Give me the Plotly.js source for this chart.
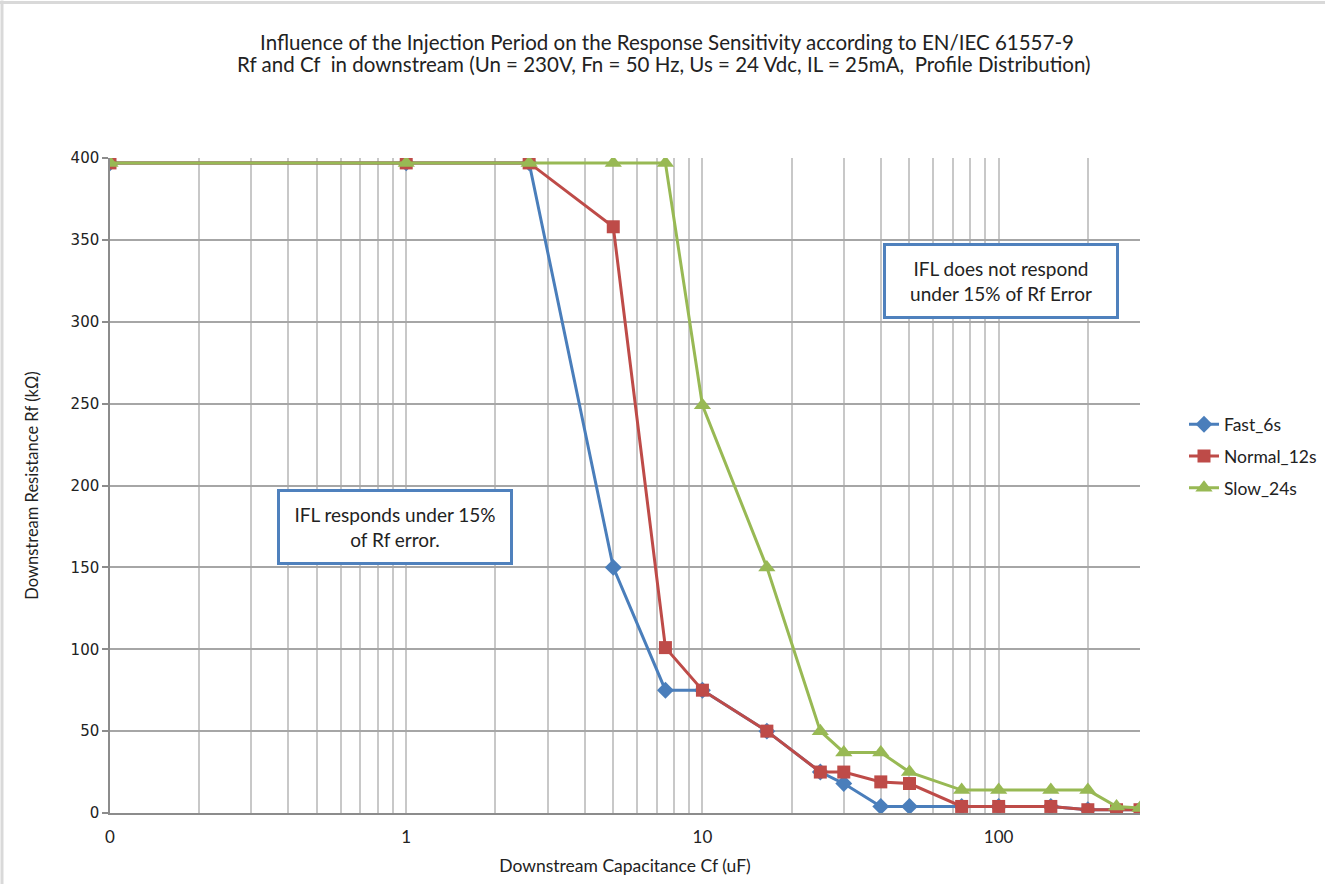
<!DOCTYPE html>
<html>
<head>
<meta charset="utf-8">
<script src="https://cdn.plot.ly/plotly-3.0.1.min.js"></script>
<style>body{margin:0;padding:0;background:#fff}#chart{width:1325px;height:884px}</style>
</head>
<body>
<div id="chart"></div>
<script>
// ---- data ----
var capacitance = [0.1, 1, 2.6, 5, 7.5, 10, 16.5, 25, 30, 40, 50, 75, 100, 150, 200, 250, 300];
var fast6s   = [397, 397, 397, 150, 75, 75, 50, 25, 18, 4, 4, 4, 4, 4, 2, 2, 2];
var normal12s= [397, 397, 397, 358, 101, 75, 50, 25, 25, 19, 18, 4, 4, 4, 2, 2, 2];
var slow24s  = [397, 397, 397, 397, 397, 249, 150, 50, 37, 37, 25, 14, 14, 14, 14, 4, 3];
var seriesNames = ["Fast_6s", "Normal_12s", "Slow_24s"];
var xTickVals = [0.1, 1, 10, 100];
var xTickText = ["0", "1", "10", "100"];
var yTickVals = [0, 50, 100, 150, 200, 250, 300, 350, 400];
var titleLine1 = "Influence of the Injection Period on the Response Sensitivity according to EN/IEC 61557-9";
var titleLine2 = "Rf and Cf  in downstream (Un = 230V, Fn = 50 Hz, Us = 24 Vdc, IL = 25mA,  Profile Distribution)";

var minorVals = [];
[0.1, 1, 10, 100].forEach(function (d) {
  for (var k = 2; k <= 9; k++) { if (d * k <= 300) minorVals.push(d * k); }
});

var W = 1325, H = 884, L = 110, R = 1140, T = 157.5, B = 812.7;
function px(p) { return (p - L) / (R - L); }
function py(p) { return (B - p) / (B - T); }

var FONT = "Lato, 'Open Sans', sans-serif";
var colors = ["#4A7EBB", "#BE4B48", "#98B954"];

var traces = [
  {x: capacitance, y: fast6s, name: seriesNames[0], legendgroup: "a", mode: "lines+markers",
   line: {color: colors[0], width: 3}, marker: {symbol: "diamond", size: 13, color: colors[0]}},
  {x: capacitance, y: normal12s, name: seriesNames[1], legendgroup: "b", mode: "lines+markers",
   line: {color: colors[1], width: 3}, marker: {symbol: "square", size: 13, color: colors[1]}},
  {x: capacitance, y: slow24s, name: seriesNames[2], legendgroup: "c", mode: "lines+markers",
   line: {color: colors[2], width: 3}, marker: {symbol: "triangle-up", size: 15, color: colors[2]}}
];

var layout = {
  width: W, height: H,
  margin: {l: L, r: W - R, t: T, b: H - B, pad: 0, autoexpand: false},
  paper_bgcolor: "#fff", plot_bgcolor: "#fff",
  showlegend: true,
  font: {family: FONT, color: "#222", size: 16},
  title: {
    text: titleLine1,
    font: {family: FONT, size: 20.5, color: "#222"},
    xref: "container", x: 667 / W, xanchor: "center", y: 1 - 43 / H, yanchor: "middle"
  },
  xaxis: {
    type: "log", range: [Math.log10(0.1), Math.log10(300)],
    tickmode: "array", tickvals: xTickVals, ticktext: xTickText,
    showgrid: true, gridcolor: "#C8C8C8", gridwidth: 1.5,
    minor: {tickmode: "array", tickvals: minorVals, showgrid: true, gridcolor: "#C8C8C8", gridwidth: 1.5, ticks: ""},
    showline: true, linecolor: "#8C8C8C", linewidth: 1.5,
    ticks: "", ticklabelstandoff: 8, tickfont: {family: FONT, size: 17, color: "#222"},
    zeroline: false,
    title: {text: "Downstream Capacitance Cf (uF)", font: {family: FONT, size: 17.5, color: "#222"}, standoff: 14}
  },
  yaxis: {
    range: [0, 400], tickmode: "array", tickvals: yTickVals,
    showgrid: true, gridcolor: "#A6A6A6", gridwidth: 1.5,
    showline: true, linecolor: "#8C8C8C", linewidth: 1.5,
    ticks: "outside", ticklen: 6, tickcolor: "#8C8C8C", tickwidth: 1.5,
    tickfont: {family: "'DejaVu Sans', sans-serif", size: 15, color: "#222"},
    zeroline: false,
    title: {text: "Downstream Resistance Rf (kΩ)", font: {family: FONT, size: 16.5, color: "#222"}, standoff: 28}
  },
  legend: {
    x: px(1184), y: py(406), xanchor: "left", yanchor: "top",
    font: {family: FONT, size: 17.5, color: "#222"},
    tracegroupgap: 6, traceorder: "grouped", bgcolor: "rgba(0,0,0,0)"
  },
  annotations: [
    {xref: "paper", yref: "paper", x: px(664), y: py(63), xanchor: "center", yanchor: "middle",
     text: titleLine2, showarrow: false, font: {family: FONT, size: 20.5, color: "#222"}},
    {xref: "paper", yref: "paper", x: px(394.5), y: py(526.5), xanchor: "center", yanchor: "middle",
     text: "IFL responds under 15%<br>of Rf error.", showarrow: false, align: "center",
     font: {family: FONT, size: 19, color: "#222"},
     bgcolor: "#fff", bordercolor: "#4F81BD", borderwidth: 3, borderpad: 2, width: 226, height: 66},
    {xref: "paper", yref: "paper", x: px(1000.5), y: py(280.5), xanchor: "center", yanchor: "middle",
     text: "IFL does not respond<br>under 15% of Rf Error", showarrow: false, align: "center",
     font: {family: FONT, size: 19, color: "#222"},
     bgcolor: "#fff", bordercolor: "#4F81BD", borderwidth: 3, borderpad: 2, width: 226, height: 66}
  ],
  shapes: [
    {type: "line", xref: "paper", yref: "paper", x0: px(2), x1: px(2), y0: py(H), y1: py(0), line: {color: "#D9D9D9", width: 3}},
    {type: "line", xref: "paper", yref: "paper", x0: px(0), x1: px(W), y0: py(2), y1: py(2), line: {color: "#D9D9D9", width: 3}}
  ]
};

Plotly.newPlot("chart", traces, layout, {displayModeBar: false, responsive: false});
</script>
</body>
</html>
